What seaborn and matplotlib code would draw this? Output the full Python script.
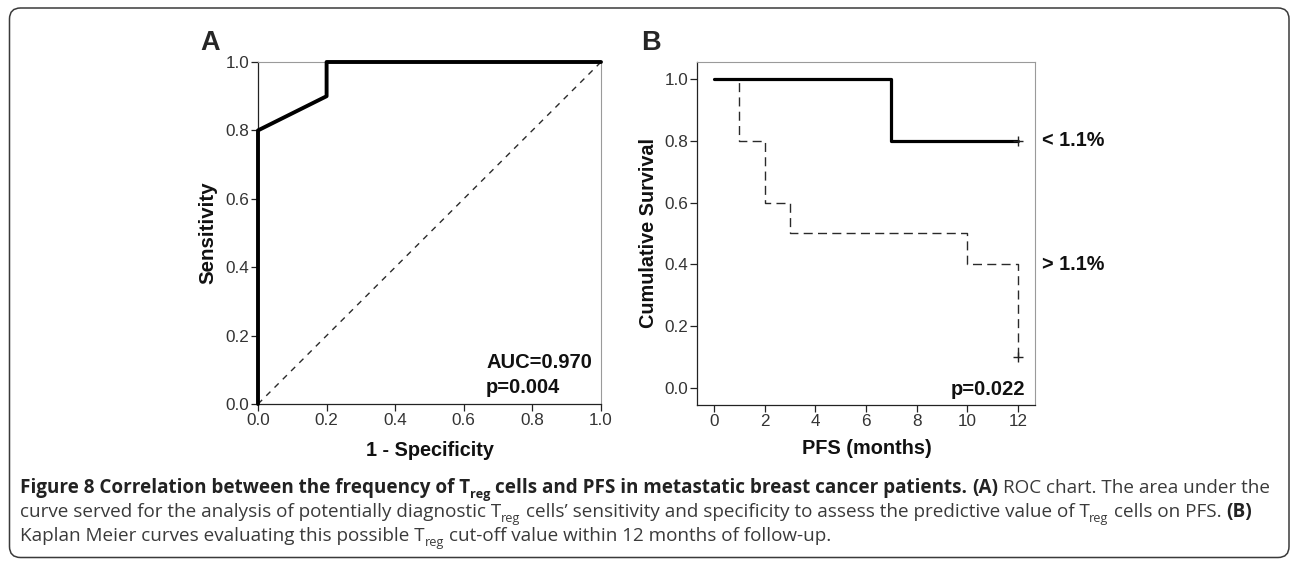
import matplotlib
matplotlib.use("Agg")
import matplotlib.pyplot as plt
import matplotlib.transforms as mtransforms
from matplotlib.patches import FancyBboxPatch
import seaborn as sns
import pandas as pd

# ---------------- data ----------------
roc_fpr = [0.0, 0.0, 0.2, 0.2, 1.0]
roc_tpr = [0.0, 0.8, 0.9, 1.0, 1.0]
diag_x = [0.0, 1.0]
diag_y = [0.0, 1.0]
auc_text = ["AUC=0.970", "p=0.004"]

km_low_t = [0, 7, 12]
km_low_s = [1.0, 0.8, 0.8]
km_high_t = [0, 1, 2, 3, 10, 12]
km_high_s = [1.0, 0.8, 0.6, 0.5, 0.4, 0.1]
km_censor_t = [12, 12]
km_censor_s = [0.8, 0.1]
group_labels = ["< 1.1%", "> 1.1%"]
group_label_y = [0.8, 0.4]
km_p_text = "p=0.022"

roc_ticks = [0.0, 0.2, 0.4, 0.6, 0.8, 1.0]
km_xticks = [0, 2, 4, 6, 8, 10, 12]
km_yticks = [0.0, 0.2, 0.4, 0.6, 0.8, 1.0]

caption_lines = [
    [("Figure 8 Correlation between the frequency of T", "bold", False),
     ("reg", "bold", True),
     (" cells and PFS in metastatic breast cancer patients.", "bold", False),
     (" (A)", "bold", False),
     (" ROC chart. The area under the", "normal", False)],
    [("curve served for the analysis of potentially diagnostic T", "normal", False),
     ("reg", "normal", True),
     (" cells\u2019 sensitivity and specificity to assess the predictive value of T", "normal", False),
     ("reg", "normal", True),
     (" cells on PFS.", "normal", False),
     (" (B)", "bold", False)],
    [("Kaplan Meier curves evaluating this possible T", "normal", False),
     ("reg", "normal", True),
     (" cut-off value within 12 months of follow-up.", "normal", False)],
]

# ---------------- style ----------------
sns.set_style("ticks")
plt.rcParams["font.family"] = ["Liberation Sans", "DejaVu Sans"]
plt.rcParams["lines.scale_dashes"] = False

W, H = 1290, 562
fig = plt.figure(figsize=(W / 100, H / 100), dpi=100)
fig.patch.set_facecolor("white")

def px_axes(l, t, r, b):
    return fig.add_axes([l / W, 1 - b / H, (r - l) / W, (b - t) / H])

tick_color = "#333333"

def style_axes(ax):
    for s in ["left", "bottom"]:
        ax.spines[s].set_color("#222222")
        ax.spines[s].set_linewidth(0.9)
    for s in ["top", "right"]:
        ax.spines[s].set_visible(True)
        ax.spines[s].set_color("#9a9a9a")
        ax.spines[s].set_linewidth(0.8)
    ax.tick_params(direction="out", length=5, width=0.9, color="#222222",
                   labelsize=12.3, labelcolor=tick_color, pad=1.2,
                   top=False, right=False)
    ax.set_facecolor("white")

# ---------------- Panel A: ROC ----------------
axA = px_axes(258, 62, 601, 404)
roc_df = pd.DataFrame({"fpr": roc_fpr, "tpr": roc_tpr})
sns.lineplot(data=roc_df, x="fpr", y="tpr", estimator=None, sort=False,
             color="black", lw=2.8, ax=axA, clip_on=False, zorder=5)
diag_df = pd.DataFrame({"x": diag_x, "y": diag_y})
sns.lineplot(data=diag_df, x="x", y="y", estimator=None, sort=False,
             color="#2a2a2a", lw=1.0, linestyle=(0, (4.2, 4.2)), ax=axA)
axA.set_xlim(0, 1)
axA.set_ylim(0, 1)
axA.set_xticks(roc_ticks)
axA.set_yticks(roc_ticks)
axA.set_xticklabels([f"{v:.1f}" for v in roc_ticks])
axA.set_yticklabels([f"{v:.1f}" for v in roc_ticks])
style_axes(axA)
axA.set_xlabel("1 - Specificity", fontsize=14.3, fontweight="bold", color="#111111")
axA.set_ylabel("Sensitivity", fontsize=14.8, fontweight="bold", color="#111111")
axA.xaxis.set_label_coords(0.501, -0.108)
axA.yaxis.set_label_coords(-0.117, 0.5)
axA.text(0.665, 0.12, auc_text[0], transform=axA.transAxes, fontsize=14.5,
         fontweight="bold", ha="left", va="center", color="#111111")
axA.text(0.665, 0.047, auc_text[1], transform=axA.transAxes, fontsize=14.5,
         fontweight="bold", ha="left", va="center", color="#111111")

# ---------------- Panel B: Kaplan-Meier ----------------
axB = px_axes(697, 62, 1035, 405)
low_df = pd.DataFrame({"t": km_low_t, "s": km_low_s})
high_df = pd.DataFrame({"t": km_high_t, "s": km_high_s})
sns.lineplot(data=high_df, x="t", y="s", estimator=None, sort=False,
             drawstyle="steps-post", color="#2a2a2a", lw=1.0,
             linestyle=(0, (6.5, 3.8)), ax=axB)
sns.lineplot(data=low_df, x="t", y="s", estimator=None, sort=False,
             drawstyle="steps-post", color="black", lw=2.3, ax=axB)
cens_df = pd.DataFrame({"t": km_censor_t, "s": km_censor_s})
sns.scatterplot(data=cens_df, x="t", y="s", marker="+", s=45, color="#222222",
                linewidth=1.0, ax=axB, zorder=6)
axB.set_xlim(-0.67, 12.67)
axB.set_ylim(-0.056, 1.056)
axB.set_xticks(km_xticks)
axB.set_yticks(km_yticks)
axB.set_xticklabels([str(v) for v in km_xticks])
axB.set_yticklabels([f"{v:.1f}" for v in km_yticks])
style_axes(axB)
axB.set_xlabel("PFS (months)", fontsize=14.3, fontweight="bold", color="#111111")
axB.set_ylabel("Cumulative Survival", fontsize=14.3, fontweight="bold", color="#111111")
axB.xaxis.set_label_coords(0.503, -0.099)
axB.yaxis.set_label_coords(-0.115, 0.5)
axB.text(0.970, 0.044, km_p_text, transform=axB.transAxes, fontsize=14.5,
         fontweight="bold", ha="right", va="center", color="#111111")
blend = mtransforms.blended_transform_factory(axB.transAxes, axB.transData)
for lab, yv in zip(group_labels, group_label_y):
    axB.text(1.021, yv, lab, transform=blend, fontsize=14.3, fontweight="bold",
             ha="left", va="center", color="#111111", clip_on=False)

# panel letters
fig.text(210 / W, 1 - 43 / H, "A", fontsize=19.5, fontweight="bold", ha="center", va="center")
fig.text(651 / W, 1 - 43 / H, "B", fontsize=19.5, fontweight="bold", ha="center", va="center")

# ---------------- outer rounded box ----------------
box = FancyBboxPatch((9.5, 4.5), 1279.5, 549.5,
                     boxstyle="round,pad=0,rounding_size=11",
                     transform=mtransforms.IdentityTransform(),
                     fill=False, edgecolor="#3a3a3a", linewidth=1.1)
fig.add_artist(box)

# ---------------- caption ----------------
renderer = fig.canvas.get_renderer()
cap_family = ["Open Sans", "DejaVu Sans"]

def text_width(s, size, weight):
    t = fig.text(0, 0, s, fontsize=size, fontweight=weight, family=cap_family)
    w = t.get_window_extent(renderer).width
    t.remove()
    return w

def space_width(size, weight):
    return text_width("a a", size, weight) - text_width("aa", size, weight)

def draw_line(segs, x0, y_base, size, draw=True):
    x = x0
    for s, weight, sub in segs:
        fs = size * 0.68 if sub else size
        lead = len(s) - len(s.lstrip(" "))
        trail = len(s) - len(s.rstrip(" "))
        core = s.strip(" ")
        x += lead * space_width(fs, weight)
        dy = -size * 100 / 72 * 0.26 if sub else 0.0
        if draw:
            col = "#222222" if weight == "bold" else "#3a3a3a"
            t = fig.text(x / W, (H - y_base + dy) / H, core, fontsize=fs,
                         fontweight=weight, family=cap_family, ha="left",
                         va="baseline", color=col)
            w = t.get_window_extent(renderer).width
        else:
            w = text_width(core, fs, weight)
        x += w
        x += trail * space_width(fs, weight)
    return x

base_size = 12.0
w0 = draw_line(caption_lines[0], 20, 493, base_size, draw=False) - 20
cap_size = base_size * 1247.0 / w0
for segs, yb in zip(caption_lines, [493, 517, 541]):
    draw_line(segs, 20, yb, cap_size)

fig.savefig("out.png", dpi=100, facecolor="white")
